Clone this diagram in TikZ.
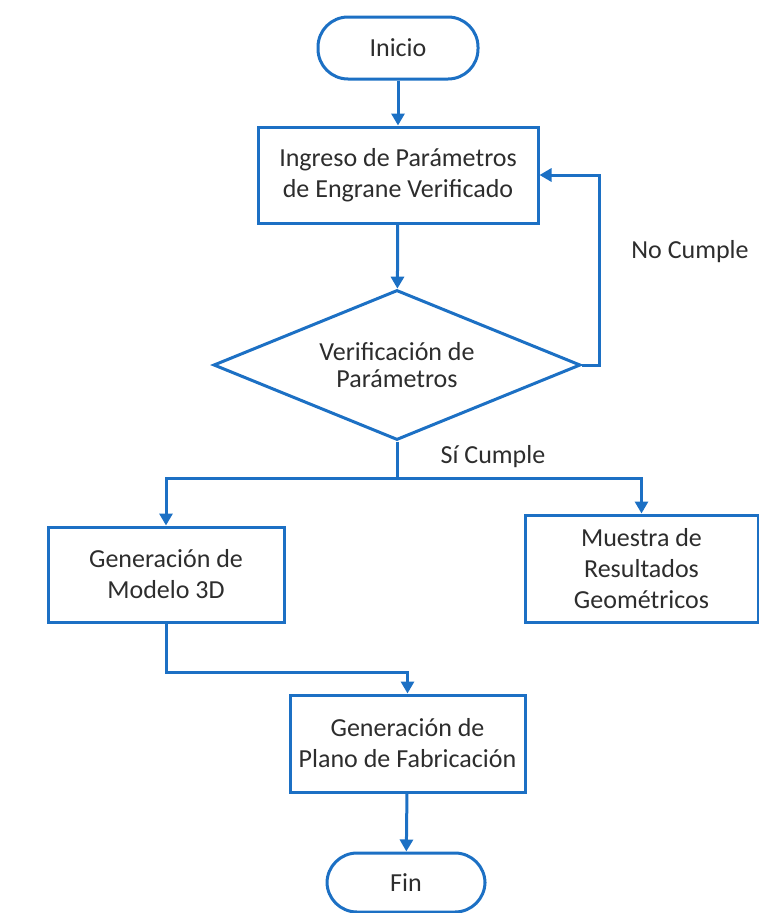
\documentclass[tikz,border=0pt]{standalone}
\usepackage{fontspec}
\setmainfont{Carlito}
\usetikzlibrary{arrows.meta,shapes.geometric}
\definecolor{fblue}{RGB}{28,112,196}
\definecolor{ftext}{RGB}{45,45,45}
\tikzset{
  base/.style={draw=fblue, line width=3pt, fill=white, text=ftext, align=center,
    font=\fontsize{26}{31}\selectfont, inner sep=0pt},
  procbox/.style={base, rectangle},
  term/.style={base, rectangle, rounded corners=30pt},
  decision/.style={base, diamond, aspect=2.45, minimum width=367pt, minimum height=150pt,
    font=\fontsize{26}{27}\selectfont},
  lbl/.style={text=ftext, font=\fontsize{26}{31}\selectfont, inner sep=0pt},
  conn/.style={draw=fblue, line width=3pt},
  arr/.style={conn, -{Triangle[length=12pt,width=13pt]}}
}
\begin{document}
\begin{tikzpicture}[x=1pt,y=-1pt]
\useasboundingbox (0,0) rectangle (759,913);
\node[term, minimum width=160pt, minimum height=62pt] (ini) at (398,48) {Inicio};
\node[procbox, minimum width=280pt, minimum height=96pt] (b1) at (398,175)
  {Ingreso de Parámetros\\de Engrane Verificado};
\node[decision] (dec) at (397,365) {Verificación de\\Parámetros};
\node[procbox, minimum width=236pt, minimum height=95pt] (b2) at (166,574.5)
  {Generación de\\Modelo 3D};
\node[procbox, minimum width=233pt, minimum height=107pt] (b3) at (641.5,568.5)
  {Muestra de\\Resultados\\Geométricos};
\node[procbox, minimum width=235pt, minimum height=97pt] (b4) at (407.5,743.5)
  {Generación de\\Plano de Fabricación};
\node[term, minimum width=158pt, minimum height=59pt] (fin) at (406,882.5) {Fin};
\node[lbl] (no) at (690,252) {No Cumple};
\node[lbl] (si) at (493,457) {Sí Cumple};

\draw[arr] (ini) -- (b1);
\draw[arr] (b1) -- (dec);
\draw[arr] (dec.east) -- ++(17,0) |- (b1.east);
\coordinate (split) at (397,478);
\draw[conn] (dec.south) -- (split);
\draw[arr] (split) -| (b2.north);
\draw[arr] (split) -| (b3.north);
\draw[arr] (b2.south) -- ++(0,49) -| (b4.north);
\draw[arr] (b4) -- (fin);
\end{tikzpicture}
\end{document}
